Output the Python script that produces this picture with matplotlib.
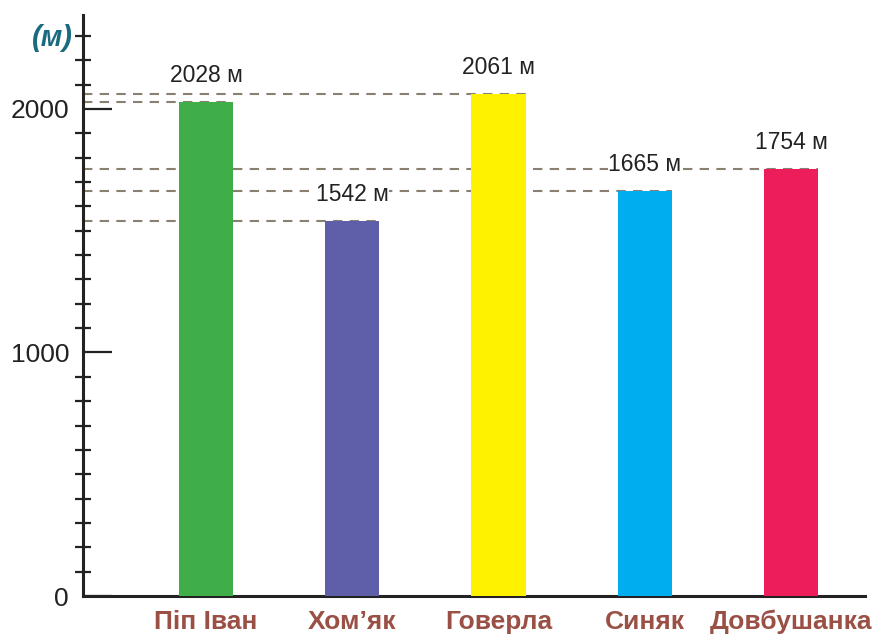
import matplotlib.pyplot as plt
from matplotlib.ticker import FixedLocator
import numpy as np

peaks = ['Піп Іван', 'Хом’як', 'Говерла', 'Синяк', 'Довбушанка']
heights = [2028, 1542, 2061, 1665, 1754]
bar_colors = ['#3fae49', '#5f5ea8', '#fff200', '#00aeef', '#ed1c5b']
major_ticks = [0, 1000, 2000]

plt.rcParams['font.family'] = ['Liberation Sans', 'DejaVu Sans']

fig = plt.figure(figsize=(8.82, 6.37), dpi=100)
ax = fig.add_axes([83 / 882, 41 / 637, 799 / 882, 581 / 637])

x = np.arange(len(peaks))
ax.bar(x, heights, width=0.37, color=bar_colors, zorder=3)
ax.set_xlim(-0.841, 4.622)
ax.set_ylim(0, 2386)

# dashed guide lines from the axis to each bar
for xi, h in zip(x, heights):
    ax.plot([-0.841, xi + 0.185], [h, h], ls=(0, (4.5, 3.5)), color='#8a8072',
            lw=1.5, zorder=2, solid_capstyle='butt')
    ax.annotate(f'{h} м', (xi, h), xytext=(0, 19), textcoords='offset points',
                ha='center', va='center', fontsize=16.5, color='#222222', zorder=4,
                bbox=dict(facecolor='white', edgecolor='none', pad=0.5))

for s in ['top', 'right']:
    ax.spines[s].set_visible(False)
ax.spines['left'].set_linewidth(2.2)
ax.spines['left'].set_color('#222222')
ax.spines['bottom'].set_linewidth(2.2)
ax.spines['bottom'].set_color('#222222')
ax.spines['bottom'].set_bounds(-0.841, 4.506)

ax.yaxis.set_major_locator(FixedLocator(major_ticks))
minor = [v for v in range(100, 2400, 100) if v % 1000 != 0]
ax.yaxis.set_minor_locator(FixedLocator(minor))
ax.tick_params(axis='y', which='major', direction='in', length=21, width=1.6,
               color='#222222', labelsize=19, labelcolor='#222222', pad=10)
ax.tick_params(axis='y', which='minor', direction='inout', length=11, width=1.6,
               color='#222222')

ax.set_xticks(x)
ax.set_xticklabels(peaks, fontsize=19, fontweight='bold', color='#9a5045')
ax.tick_params(axis='x', length=0, pad=10)

fig.text(52 / 882, 1 - 38 / 637, '(м)', ha='center', va='center', fontsize=21,
         fontweight='bold', style='italic', color='#1b6b80')

fig.savefig('out.png', dpi=100)
